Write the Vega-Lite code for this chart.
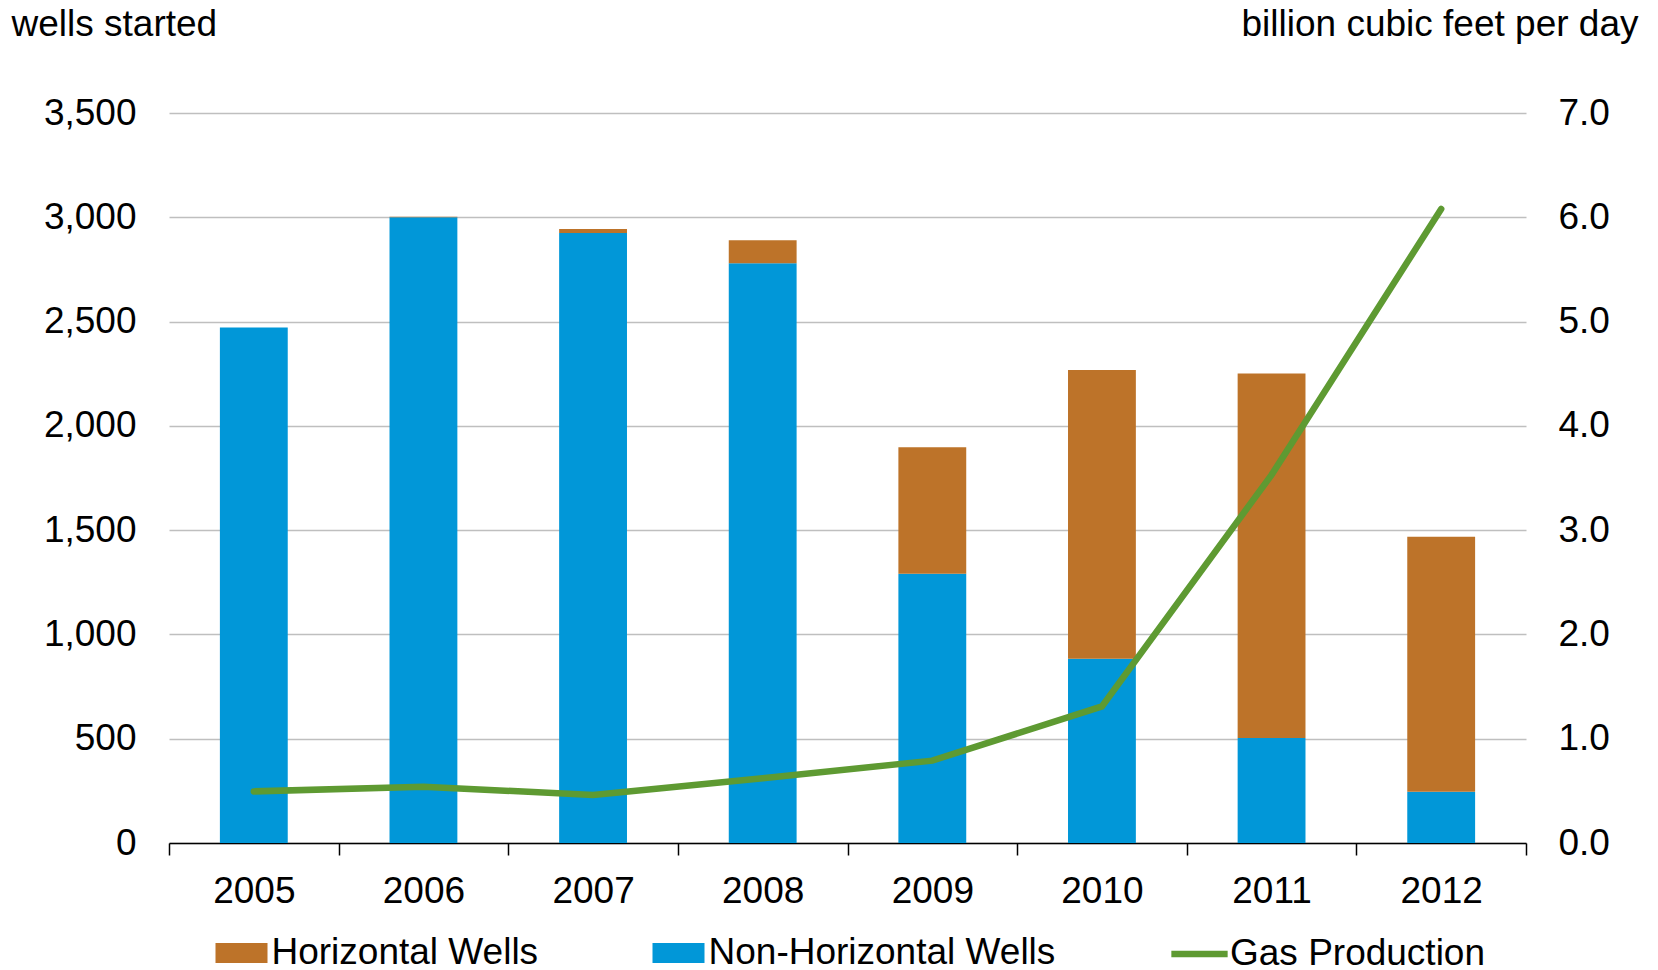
{
  "$schema": "https://vega.github.io/schema/vega-lite/v6.json",
  "autosize": {"type": "none"},
  "width": 1357,
  "height": 730,
  "padding": {"left": 169, "top": 113, "right": 132, "bottom": 127},
  "background": "#ffffff",
  "config": {
    "font": "Liberation Sans",
    "view": {"stroke": null},
    "axis": {
      "labelFont": "Liberation Sans",
      "labelFontSize": 37,
      "labelColor": "#000000",
      "titleFont": "Liberation Sans",
      "titleFontSize": 37,
      "titleFontWeight": "normal",
      "titleColor": "#000000"
    },
    "legend": {
      "labelFont": "Liberation Sans",
      "labelFontSize": 37,
      "labelColor": "#000000",
      "labelLimit": 0,
      "padding": 0,
      "symbolOpacity": 1
    }
  },
  "datasets": {
    "wells": [
      {"year": "2005", "series": "Non-Horizontal Wells", "wells": 2472},
      {"year": "2005", "series": "Horizontal Wells", "wells": 0},
      {"year": "2006", "series": "Non-Horizontal Wells", "wells": 3000},
      {"year": "2006", "series": "Horizontal Wells", "wells": 3},
      {"year": "2007", "series": "Non-Horizontal Wells", "wells": 2925},
      {"year": "2007", "series": "Horizontal Wells", "wells": 19},
      {"year": "2008", "series": "Non-Horizontal Wells", "wells": 2780},
      {"year": "2008", "series": "Horizontal Wells", "wells": 110},
      {"year": "2009", "series": "Non-Horizontal Wells", "wells": 1291},
      {"year": "2009", "series": "Horizontal Wells", "wells": 607},
      {"year": "2010", "series": "Non-Horizontal Wells", "wells": 883},
      {"year": "2010", "series": "Horizontal Wells", "wells": 1385},
      {"year": "2011", "series": "Non-Horizontal Wells", "wells": 503},
      {"year": "2011", "series": "Horizontal Wells", "wells": 1748},
      {"year": "2012", "series": "Non-Horizontal Wells", "wells": 246},
      {"year": "2012", "series": "Horizontal Wells", "wells": 1222}
    ],
    "gas": [
      {"year": "2005", "series": "Gas Production", "bcfd": 0.495},
      {"year": "2006", "series": "Gas Production", "bcfd": 0.54},
      {"year": "2007", "series": "Gas Production", "bcfd": 0.46},
      {"year": "2008", "series": "Gas Production", "bcfd": 0.62},
      {"year": "2009", "series": "Gas Production", "bcfd": 0.79},
      {"year": "2010", "series": "Gas Production", "bcfd": 1.31},
      {"year": "2011", "series": "Gas Production", "bcfd": 3.53},
      {"year": "2012", "series": "Gas Production", "bcfd": 6.08}
    ]
  },
  "encoding": {
    "x": {
      "field": "year",
      "type": "ordinal",
      "scale": {"paddingInner": 0, "paddingOuter": 0},
      "axis": {
        "title": null,
        "labelAngle": 0,
        "tickBand": "extent",
        "tickSize": 12,
        "tickColor": "#000000",
        "tickWidth": 1.5,
        "domainColor": "#000000",
        "domainWidth": 1.5,
        "labelPadding": 18,
        "grid": false
      }
    }
  },
  "layer": [
    {
      "data": {"name": "wells"},
      "mark": {"type": "bar", "width": {"band": 0.4}},
      "encoding": {
        "y": {
          "field": "wells",
          "type": "quantitative",
          "stack": "zero",
          "scale": {"domain": [0, 3500], "nice": false},
          "axis": {
            "title": "wells started",
            "values": [0, 500, 1000, 1500, 2000, 2500, 3000, 3500],
            "format": ",d",
            "grid": true,
            "gridColor": "#BFBFBF",
            "gridWidth": 1.5,
            "domain": false,
            "ticks": false,
            "tickSize": 0,
            "labelPadding": 33,
            "titleAngle": 0,
            "titleX": -158,
            "titleY": -78,
            "titleAlign": "left",
            "titleBaseline": "alphabetic"
          }
        },
        "fill": {
          "field": "series",
          "type": "nominal",
          "scale": {
            "domain": ["Horizontal Wells", "Non-Horizontal Wells"],
            "range": ["#BD7329", "#0197D8"]
          },
          "legend": {
            "title": null,
            "orient": "none",
            "direction": "horizontal",
            "legendX": 46.5,
            "legendY": 814,
            "labelOffset": 4,
            "columnPadding": 114,
            "symbolSize": 2704,
            "symbolType": "M-1,-0.385H1V0.385H-1Z",
            "symbolStrokeWidth": 0
          }
        },
        "order": {"field": "series", "sort": "descending"}
      }
    },
    {
      "data": {"name": "gas"},
      "mark": {"type": "line", "strokeWidth": 6.5, "strokeCap": "round"},
      "encoding": {
        "y": {
          "field": "bcfd",
          "type": "quantitative",
          "scale": {"domain": [0, 7], "nice": false},
          "axis": {
            "orient": "right",
            "title": "billion cubic feet per day",
            "values": [0, 1, 2, 3, 4, 5, 6, 7],
            "format": ".1f",
            "grid": false,
            "domain": false,
            "ticks": false,
            "tickSize": 0,
            "labelPadding": 32,
            "titleAngle": 0,
            "titleX": 112,
            "titleY": -78,
            "titleAlign": "right",
            "titleBaseline": "alphabetic"
          }
        },
        "stroke": {
          "field": "series",
          "type": "nominal",
          "scale": {"domain": ["Gas Production"], "range": ["#5E9A32"]},
          "legend": {
            "title": null,
            "orient": "none",
            "direction": "horizontal",
            "legendX": 999,
            "legendY": 809.5,
            "labelOffset": -1,
            "symbolType": "stroke",
            "symbolSize": 3170,
            "symbolStrokeWidth": 6.5
          }
        }
      }
    }
  ],
  "resolve": {"scale": {"y": "independent"}}
}
